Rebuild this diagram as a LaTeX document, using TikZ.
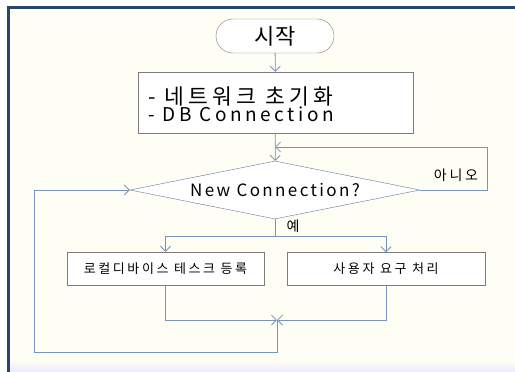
\documentclass[tikz,border=0pt]{standalone}
\usepackage{fontspec}
\setmainfont{Noto Sans CJK KR}
\newfontfamily\widelatin{Noto Sans CJK KR}[LetterSpace=14]
\newfontfamily\widerlatin{Noto Sans CJK KR}[LetterSpace=19]
\newfontfamily\widehangul{Noto Sans CJK KR}[LetterSpace=20]
\usetikzlibrary{shapes.geometric,arrows.meta}

\definecolor{linkblue}{RGB}{120,148,186}
\definecolor{boxgray}{RGB}{125,125,125}
\definecolor{framedark}{RGB}{40,70,105}

\tikzset{
	terminal/.style={draw=boxgray, fill=white, rounded corners=17pt, minimum width=118pt, minimum height=34pt, inner sep=0pt},
	procbox/.style={draw=boxgray, fill=white, inner sep=0pt},
	decision/.style={draw=linkblue!80!black, fill=white, diamond, aspect=5, inner sep=0pt, minimum width=290pt, minimum height=58pt},
	link/.style={draw=linkblue, line width=0.8pt, -{Straight Barb[length=5pt,width=10pt]}},
}

\begin{document}
\begin{tikzpicture}[x=1pt, y=-1pt]
				\useasboundingbox (0,0) rectangle (515,372);
				% frame
				\fill[white!96!yellow] (9,7) rectangle (515,368);
				\shade[top color=white!96!yellow, bottom color=blue!8] (10,360) rectangle (515,372);
				\draw[framedark, line width=3pt] (8.5,372) -- (8.5,7) -- (515,7);

				\node[terminal] (start) at (275,36) {\fontsize{22}{24}\selectfont 시작};
				\node[procbox, minimum width=275pt, minimum height=61pt] (init) at (275.5,102.5) {};
				\node[anchor=west, align=left, inner sep=0pt] (initText) at ([xshift=10pt, yshift=-2pt]init.west)
					{\fontsize{21.5}{24}\widehangul - 네트워크 초기화\\\fontsize{19}{24}\widerlatin - DB Connection};
				\node[decision] (dec) at (275,190) {\fontsize{17}{20}\widelatin New Connection?};
				\node[procbox, minimum width=197pt, minimum height=33pt] (local) at (165.5,268.5) {\fontsize{13}{15}\widehangul 로컬디바이스 테스크 등록};
				\node[procbox, minimum width=198pt, minimum height=33pt] (user) at (386,269) {\fontsize{13}{15}\widehangul 사용자 요구 처리};

				\node (no) at (456,175) {\fontsize{14}{16}\widehangul 아니오};
				\node (yes) at (293,226) {\fontsize{14}{16}\selectfont 예};

				\coordinate (join) at (275,147);
				\coordinate (noR) at (487,147);
				\coordinate (split) at (275,236);
				\coordinate (merge) at (277,320);
				\coordinate (lft) at (34,352);

				\draw[link] (start) -- (init);
				\draw[link] (init) -- (dec);
				\draw[link] (dec.east) -| (noR) -- (join);
				\draw[link, -] (dec.south) -- (split);
				\draw[link] (split) -| (local.north);
				\draw[link] (split) -| (user.north);
				\draw[link] (local.south) |- (merge);
				\draw[link] (user.south) |- (merge);
				\draw[link] (merge) |- (lft) |- (dec.west);
			\end{tikzpicture}
\end{document}
